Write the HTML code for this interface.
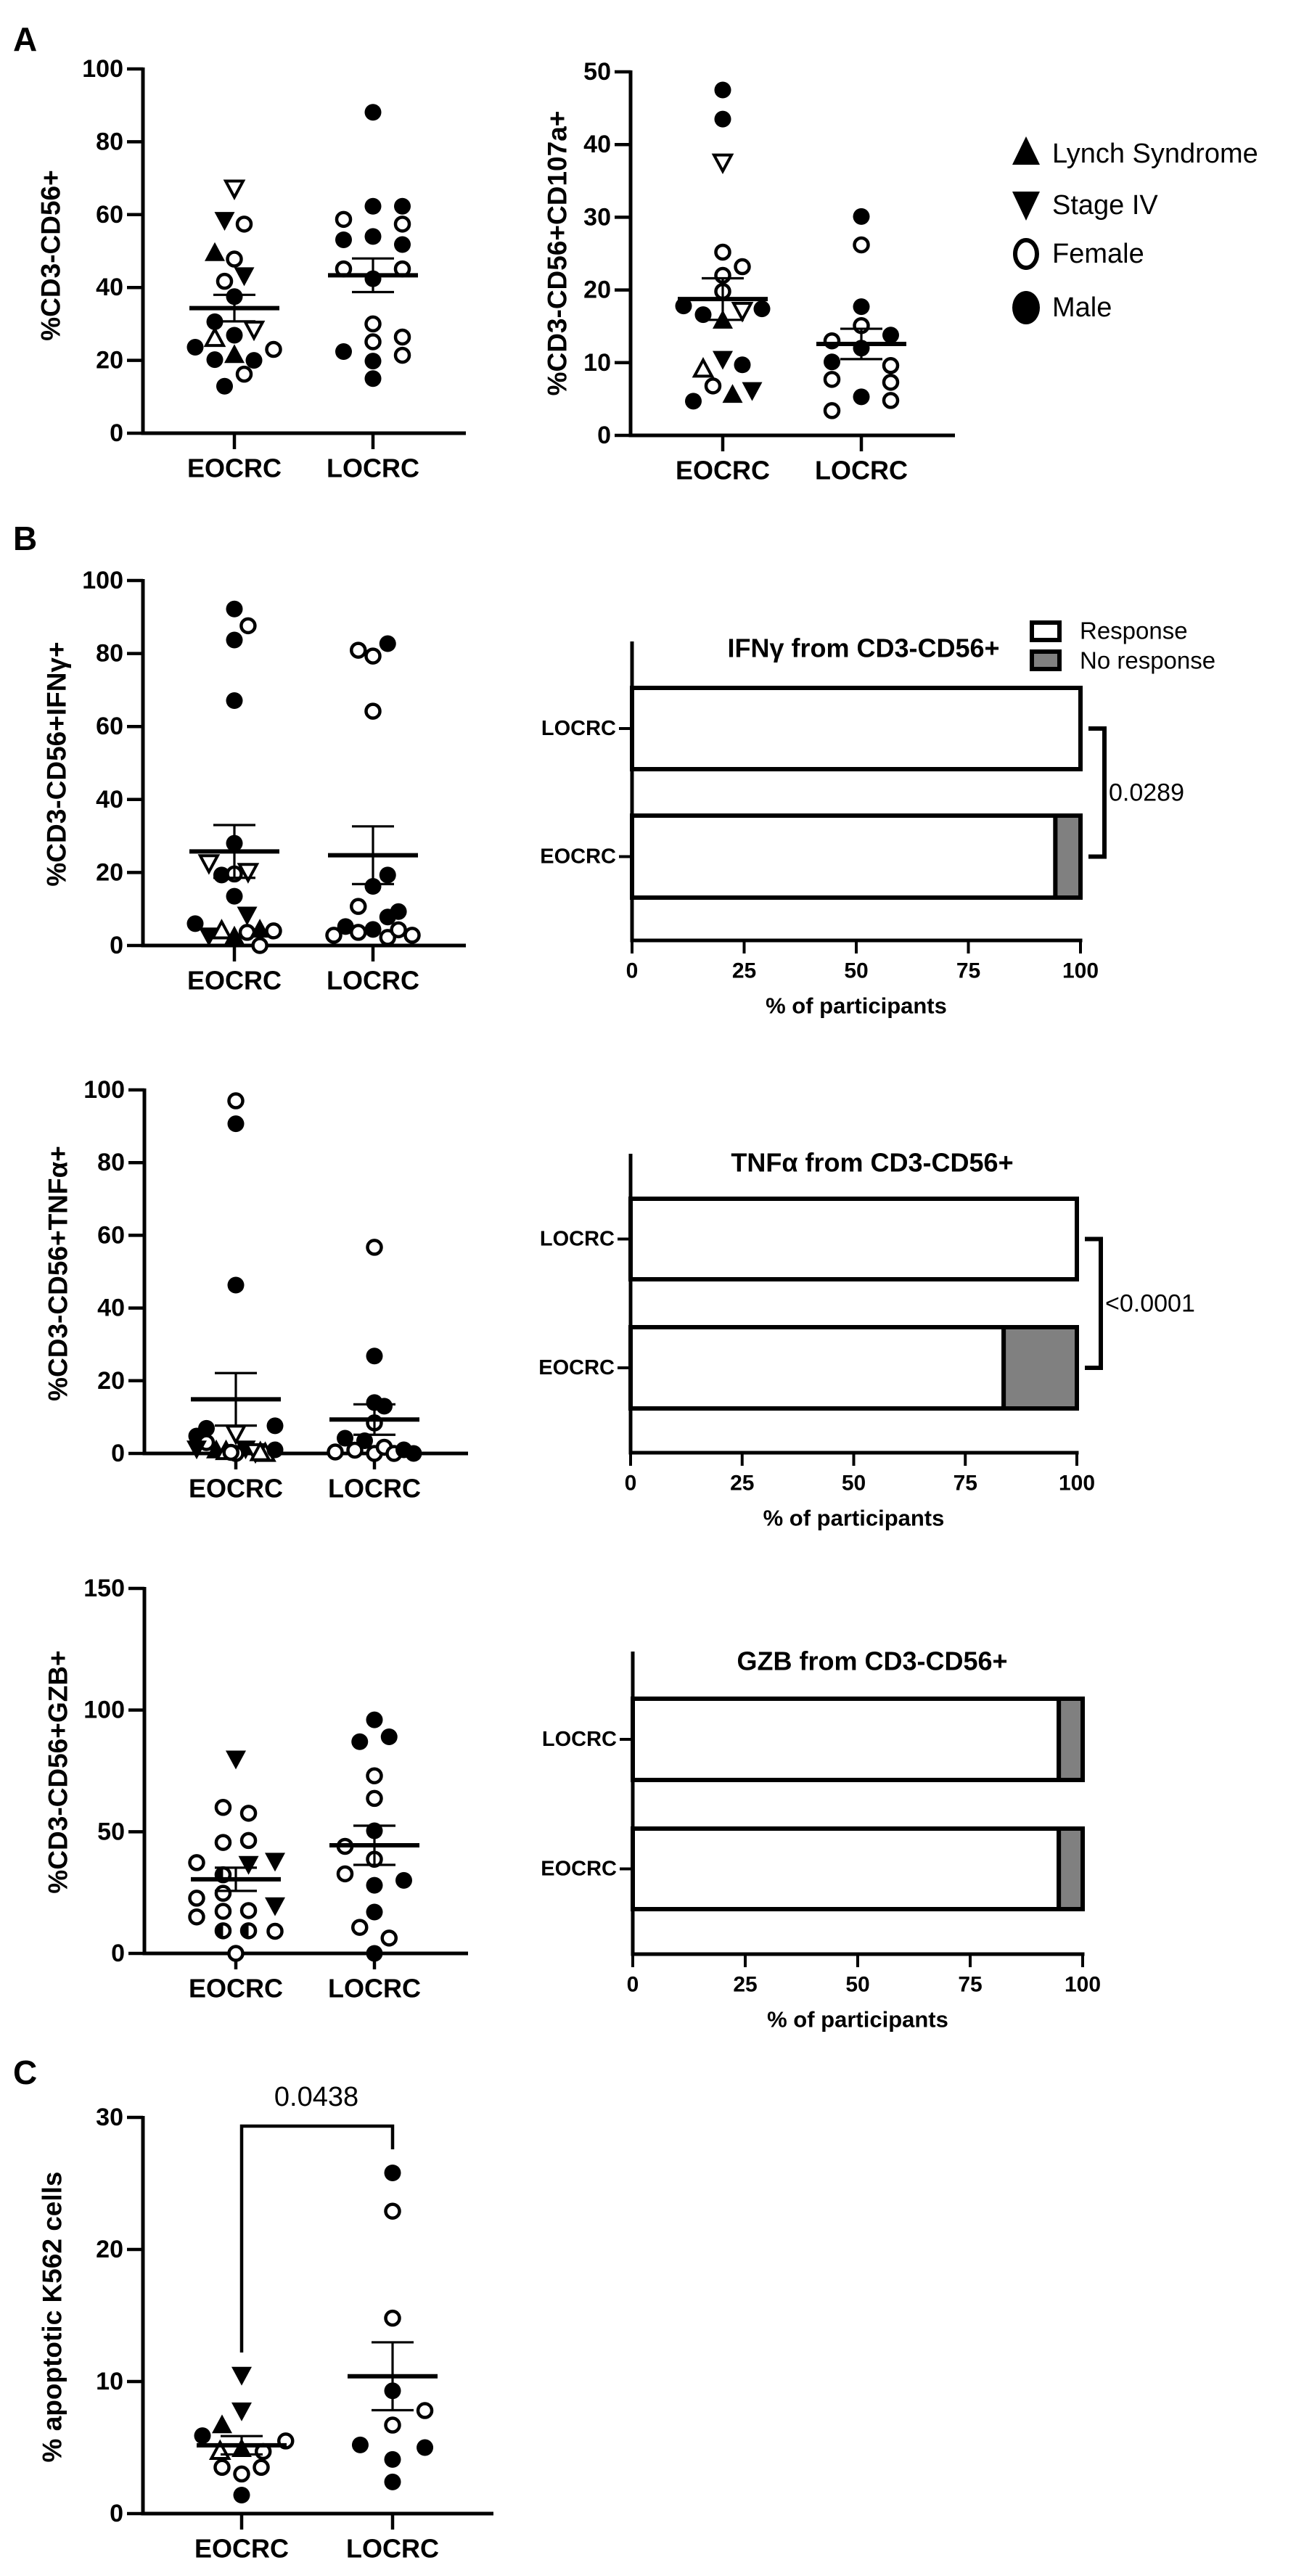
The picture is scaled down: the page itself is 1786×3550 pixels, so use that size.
<!DOCTYPE html>
<html><head><meta charset="utf-8"><style>
html,body{margin:0;padding:0;background:#fff}
svg{display:block}
text{font-family:"Liberation Sans",Arial,sans-serif;fill:#000}
</style></head><body>
<svg id="fig" xmlns="http://www.w3.org/2000/svg" width="1786" height="3550" viewBox="0 0 1786 3550">
<rect width="1786" height="3550" fill="#fff"/>
<text x="18" y="70" font-size="46" font-weight="bold">A</text>
<text x="18" y="758" font-size="46" font-weight="bold">B</text>
<text x="18" y="2872" font-size="46" font-weight="bold">C</text>
</svg>
<script>
// ---- categories ----
const groups = ["EOCRC", "LOCRC"];
// ---- A1: %CD3-CD56+ ----
const a1EoVals = [67.3,58.5,57.4,49.5,47.8,41.7,43.3,37.5,30.6,28.6,26,26.9,23.6,23,21.5,20.2,20,16.2,12.9];
const a1EoShapes = ["od","fd","oc","ft","oc","oc","fd","fc","fc","od","ot","fc","fc","oc","ft","fc","fc","oc","fc"];
const a1EoSlots = [0,-1,1,-2,0,-1,1,0,-2,2,-2,0,-4,4,0,-2,2,1,-1];
const a1LoVals = [88.1,62.3,62.3,58.7,57.4,53.1,54,51.8,45.1,45.1,42.4,30,26.4,25.1,22.4,21.4,19.8,15];
const a1LoShapes = ["fc","fc","fc","oc","oc","fc","fc","fc","oc","oc","fc","oc","oc","oc","fc","oc","fc","fc"];
const a1LoSlots = [0,0,3,-3,3,-3,0,3,-3,3,0,0,3,0,-3,3,0,0];
const a1Ticks = [0,20,40,60,80,100];
// ---- A2: %CD3-CD56+CD107a+ ----
const a2EoVals = [47.5,43.5,37.6,25.2,23.2,22,19.8,17.8,16.6,15.8,17.2,17.4,9.1,10.5,9.7,6.8,5.6,6.2,4.7];
const a2EoShapes = ["fc","fc","od","oc","oc","oc","oc","fc","fc","ft","od","fc","ot","fd","fc","oc","ft","fd","fc"];
const a2EoSlots = [0,0,0,0,2,0,0,-4,-2,0,2,4,-2,0,2,-1,1,3,-3];
const a2LoVals = [30.1,26.2,17.7,15.1,13,13.8,12,10.1,9.6,7.7,7.3,5.3,4.8,3.4];
const a2LoShapes = ["fc","oc","fc","oc","oc","fc","fc","fc","oc","oc","oc","fc","oc","oc"];
const a2LoSlots = [0,0,0,0,-3,3,0,-3,3,-3,3,0,3,-3];
const a2Ticks = [0,10,20,30,40,50];
// ---- B1: IFNg ----
const ifnEoVals = [92.2,87.6,83.7,67.1,28,22.7,19.3,19.6,20.3,13.5,8.4,6,2.7,4,2.5,3.6,4.4,4,0];
const ifnEoShapes = ["fc","oc","fc","fc","fc","od","fc","oc","od","fc","fd","fc","fd","ot","ft","oc","ft","oc","oc"];
const ifnEoSlots = [0,1.4,0,0,0,-2.6,-1.3,0,1.4,0,1.3,-4,-2.6,-1.3,0,1.3,2.6,4,2.6];
const ifnLoVals = [80.9,79.3,82.7,64.2,19.3,16.2,10.7,7.8,9.3,5.2,2.8,3.6,4.4,2.2,4.3,2.8];
const ifnLoShapes = ["oc","oc","fc","oc","fc","fc","oc","fc","fc","fc","oc","oc","fc","oc","oc","oc"];
const ifnLoSlots = [-1.5,0,1.5,0,1.5,0,-1.5,1.5,2.6,-2.8,-4,-1.5,0,1.5,2.6,4];
// ---- B2: TNFa ----
const tnfEoVals = [97,90.7,46.3,5.6,6.9,4.8,7.6,3,1.3,0.9,0.5,0,1.3,0.5,0,1,0.3,0.2];
const tnfEoShapes = ["oc","fc","fc","od","fc","fc","fc","oc","fd","ft","ot","oc","fd","od","ot","fc","oc","ot"];
const tnfEoSlots = [0,0,0,0,-3,-4,4,-3,-4,-2,-1,0,1,2,3,4,-0.5,2.5];
const tnfLoVals = [56.7,26.8,14,13,8.4,4.2,3.5,0.4,0.9,0,1.7,0,1,0];
const tnfLoShapes = ["oc","fc","fc","fc","oc","fc","fc","oc","oc","oc","oc","oc","fc","fc"];
const tnfLoSlots = [0,0,0,1,0,-3,-1,-4,-2,0,1,2,3,4];
const pctTicks = [0,20,40,60,80,100];
// ---- B3: GZB ----
const gzbEoVals = [80,60,57.6,45.6,46.4,37.3,36.7,38,32.3,24.7,22.7,15,17.3,17.6,19.7,9.3,9.3,9.1,0];
const gzbEoShapes = ["fd","oc","oc","oc","oc","oc","fd","fd","hc","oc","oc","oc","oc","oc","fd","hc","hc","oc","oc"];
const gzbEoSlots = [0,-1.3,1.3,-1.3,1.3,-4,1.3,4,-1.3,-1.3,-4,-4,-1.3,1.3,4,-1.3,1.3,4,0];
const gzbLoVals = [96,87,89,73,63.7,50.4,44,38.7,32.7,28,30,17,10.7,6.3,0];
const gzbLoShapes = ["fc","fc","fc","oc","oc","fc","oc","oc","oc","fc","fc","fc","oc","oc","fc"];
const gzbLoSlots = [0,-1.5,1.5,0,0,0,-3,0,-3,0,3,0,-1.5,1.5,0];
const gzbTicks = [0,50,100,150];
// ---- C: apoptotic K562 ----
const cEoVals = [10.5,7.8,6.7,5.9,5.5,4.7,4.9,4.7,3.5,3.0,3.5,1.4];
const cEoShapes = ["fd","fd","ft","fc","oc","ot","ft","oc","oc","oc","oc","fc"];
const cEoSlots = [0,0,-2,-4,4.5,-2.2,0,2.2,-2,0,2,0];
const cLoVals = [25.8,22.9,14.8,9.3,7.8,6.7,5.2,5.0,4.1,2.4];
const cLoShapes = ["fc","oc","oc","fc","oc","oc","fc","fc","fc","fc"];
const cLoSlots = [0,0,0,0,3.3,0,-3.3,3.3,0,0];
const cTicks = [0,10,20,30];
// ---- stacked bars (% of participants), order [EOCRC, LOCRC] ----
const ifnResponse = [94.4, 100];
const tnfResponse = [83.6, 100];
const gzbResponse = [94.7, 94.7];
const barTicks = [0,25,50,75,100];

const NS = "http://www.w3.org/2000/svg";
const svg = document.getElementById("fig");
function mk(tag, attrs, parent, txt){
  const e = document.createElementNS(NS, tag);
  for (const k in attrs) e.setAttribute(k, attrs[k]);
  if (txt !== undefined) e.textContent = txt;
  (parent || svg).appendChild(e);
  return e;
}
function line(g,x1,y1,x2,y2,w){ return mk("line",{x1,y1,x2,y2,stroke:"#000","stroke-width":w},g); }

function marker(g, shape, cx, cy){
  let e;
  const r = 11.5, t = 14;
  if (shape === "fc") e = mk("circle",{cx,cy,r,fill:"#000"},g);
  else if (shape === "oc") e = mk("circle",{cx,cy,r:9.5,fill:"#fff",stroke:"#000","stroke-width":4.5},g);
  else if (shape === "hc") {
    e = mk("g",{},g);
    mk("circle",{cx,cy,r:9.5,fill:"#fff",stroke:"#000","stroke-width":4.5},e);
    mk("path",{d:`M${cx},${cy-9.5} A9.5,9.5 0 0 0 ${cx},${cy+9.5} Z`,fill:"#000"},e);
  }
  else {
    const up = shape[1] === "t";
    const filled = shape[0] === "f";
    const s = filled ? t : t-2;
    const pts = up ? `${cx-s},${cy+s*0.8} ${cx+s},${cy+s*0.8} ${cx},${cy-s*1.05}`
                   : `${cx-s},${cy-s*0.8} ${cx+s},${cy-s*0.8} ${cx},${cy+s*1.05}`;
    e = mk("polygon",{points:pts,fill:filled?"#000":"#fff",stroke:"#000","stroke-width":filled?0:4,"stroke-linejoin":"miter"},g);
  }
  
  
  return e;
}

function meanSem(v){
  const n=v.length; const m=v.reduce((a,b)=>a+b,0)/n;
  const sd=Math.sqrt(v.reduce((a,b)=>a+(b-m)*(b-m),0)/(n-1));
  return [m, sd/Math.sqrt(n)];
}

function scatter(cfg){
  const g = mk("g",{});
  
  
  const yMax = cfg.ticks[cfg.ticks.length-1];
  const Y = v => cfg.y0 - (v/yMax)*(cfg.y0-cfg.yTop);
  const ya = line(g,cfg.x0,cfg.yTop-2,cfg.x0,cfg.y0+2.5,5);
  
  
  const xa = line(g,cfg.x0-2.5,cfg.y0,cfg.xEnd,cfg.y0,5);
  
  
  cfg.ticks.forEach(t=>{
    const y=Y(t);
    line(g,cfg.x0-22,y,cfg.x0,y,4.5);
    const tl = mk("text",{x:cfg.x0-27,y:y,"font-size":34,"font-weight":"bold","text-anchor":"end","dominant-baseline":"central"},g,String(t));
    
    
  });
  groups.forEach((gn,i)=>{
    const cx=cfg.cats[i];
    line(g,cx,cfg.y0,cx,cfg.y0+22,4.5);
    const xl = mk("text",{x:cx,y:cfg.y0+48,"font-size":36,"font-weight":"bold","text-anchor":"middle","dominant-baseline":"central"},g,gn);
    
    
  });
  const yt = mk("text",{x:0,y:0,"font-size":37,"font-weight":"bold","text-anchor":"middle","dominant-baseline":"central",transform:`translate(${cfg.titleX},${cfg.titleY}) rotate(-90)`},g,cfg.title);
  
  
  const sets=[[cfg.eoV,cfg.eoS,cfg.eoJ],[cfg.loV,cfg.loS,cfg.loJ]];
  sets.forEach((s,i)=>{
    const cx=cfg.cats[i];
    s[0].forEach((v,k)=>marker(g,s[1][k],cx+s[2][k]*13.5,Y(v)));
    const [m,se]=meanSem(s[0]);
    const ml = line(g,cx-62,Y(m),cx+62,Y(m),6);
    
    
    const eb = mk("path",{d:`M${cx},${Y(m+se)}V${Y(m-se)}M${cx-29},${Y(m+se)}H${cx+29}M${cx-29},${Y(m-se)}H${cx+29}`,stroke:"#000","stroke-width":3.2,fill:"none"},g);
    
    
  });
  return {g,Y};
}

scatter({name:"chart-cd56",x0:197,xEnd:642,yTop:95,y0:597,cats:[323,514],ticks:a1Ticks,title:"%CD3-CD56+",titleX:70,titleY:352,
  eoV:a1EoVals,eoS:a1EoShapes,eoJ:a1EoSlots,loV:a1LoVals,loS:a1LoShapes,loJ:a1LoSlots});
scatter({name:"chart-cd107a",x0:869,xEnd:1316,yTop:99,y0:600,cats:[996,1187],ticks:a2Ticks,title:"%CD3-CD56+CD107a+",titleX:768,titleY:349,
  eoV:a2EoVals,eoS:a2EoShapes,eoJ:a2EoSlots,loV:a2LoVals,loS:a2LoShapes,loJ:a2LoSlots});
scatter({name:"chart-ifng-scatter",x0:197,xEnd:642,yTop:800,y0:1303,cats:[323,514],ticks:pctTicks,title:"%CD3-CD56+IFNγ+",titleX:78,titleY:1053,
  eoV:ifnEoVals,eoS:ifnEoShapes,eoJ:ifnEoSlots,loV:ifnLoVals,loS:ifnLoShapes,loJ:ifnLoSlots});
scatter({name:"chart-tnfa-scatter",x0:199,xEnd:645,yTop:1502,y0:2003,cats:[325,516],ticks:pctTicks,title:"%CD3-CD56+TNFα+",titleX:80,titleY:1755,
  eoV:tnfEoVals,eoS:tnfEoShapes,eoJ:tnfEoSlots,loV:tnfLoVals,loS:tnfLoShapes,loJ:tnfLoSlots});
scatter({name:"chart-gzb-scatter",x0:199,xEnd:645,yTop:2189,y0:2692,cats:[325,516],ticks:gzbTicks,title:"%CD3-CD56+GZB+",titleX:80,titleY:2442,
  eoV:gzbEoVals,eoS:gzbEoShapes,eoJ:gzbEoSlots,loV:gzbLoVals,loS:gzbLoShapes,loJ:gzbLoSlots});
const cChart = scatter({name:"chart-apoptosis",x0:197,xEnd:680,yTop:2918,y0:3464,cats:[333,541],ticks:cTicks,title:"% apoptotic K562 cells",titleX:72,titleY:3193,
  eoV:cEoVals,eoS:cEoShapes,eoJ:cEoSlots,loV:cLoVals,loS:cLoShapes,loJ:cLoSlots});
const cb = mk("path",{d:"M333,3242V2930H541V2962",stroke:"#000","stroke-width":4.5,fill:"none"},cChart.g);


const cp = mk("text",{x:436,y:2890,"font-size":38,"text-anchor":"middle","dominant-baseline":"central"},cChart.g,"0.0438");



const legend = mk("g",{});


[["ft","Lynch Syndrome",212],["fd","Stage IV",283],["oc","Female",350],["fc","Male",424]].forEach(it=>{
  const s = it[0];
  if (s==="ft") mk("polygon",{points:`1395,227 1433,227 1414,188`,fill:"#000"},legend);
  else if (s==="fd") mk("polygon",{points:`1395,264 1433,264 1414,304`,fill:"#000"},legend);
  else if (s==="oc") mk("ellipse",{cx:1414,cy:it[2],rx:15,ry:19,fill:"#fff",stroke:"#000","stroke-width":6},legend);
  else mk("ellipse",{cx:1414,cy:it[2],rx:19,ry:23,fill:"#000"},legend);
  const lt = mk("text",{x:1450,y:it[2],"font-size":38,"dominant-baseline":"central"},legend,it[1]);
  
  
});

function barChart(cfg){
  const g = mk("g",{});
  
  
  const X = v => cfg.x0 + v/100*(cfg.x100-cfg.x0);
  const ya = line(g,cfg.x0,cfg.top,cfg.x0,cfg.axisY+2.5,5);
  
  
  const xa = line(g,cfg.x0-2.5,cfg.axisY,cfg.x100+2.5,cfg.axisY,5);
  
  
  barTicks.forEach(t=>{
    line(g,X(t),cfg.axisY,X(t),cfg.axisY+18,4);
    const tl = mk("text",{x:X(t),y:cfg.axisY+42,"font-size":30,"font-weight":"bold","text-anchor":"middle","dominant-baseline":"central"},g,String(t));
    
    
  });
  const xt = mk("text",{x:(cfg.x0+cfg.x100)/2,y:cfg.axisY+90,"font-size":31,"font-weight":"bold","text-anchor":"middle","dominant-baseline":"central"},g,"% of participants");
  
  
  const tt = mk("text",{x:cfg.titleCx,y:cfg.titleY,"font-size":36,"font-weight":"bold","text-anchor":"middle","dominant-baseline":"central"},g,cfg.title);
  
  
  groups.forEach((gn,i)=>{
    const b = cfg.bars[i];
    const cy = (b[0]+b[1])/2;
    line(g,cfg.x0-18,cy,cfg.x0,cy,4);
    const yl = mk("text",{x:cfg.x0-22,y:cy,"font-size":29,"font-weight":"bold","text-anchor":"end","dominant-baseline":"central"},g,gn);
    
    
    const resp = cfg.resp[i];
    const r1 = mk("rect",{x:cfg.x0,y:b[0],width:X(resp)-cfg.x0,height:b[1]-b[0],fill:"#fff",stroke:"#000","stroke-width":6},g);
    
    
    if (resp < 100) {
      const r2 = mk("rect",{x:X(resp),y:b[0],width:X(100)-X(resp),height:b[1]-b[0],fill:"#808080",stroke:"#000","stroke-width":6},g);
      
      
    }
  });
  if (cfg.p) {
    const e = cfg.bars[0], l = cfg.bars[1];
    const y1=(l[0]+l[1])/2, y2=(e[0]+e[1])/2, bx=cfg.x100+33;
    const br = mk("path",{d:`M${bx-22},${y1}H${bx}V${y2}H${bx-22}`,stroke:"#000","stroke-width":6,fill:"none"},g);
    
    
    const pt = mk("text",{x:bx+6,y:(y1+y2)/2,"font-size":34,"dominant-baseline":"central"},g,cfg.p);
    
    
  }
  return g;
}
const ifnBar = barChart({name:"chart-ifng-bars",x0:871,x100:1489,top:884,axisY:1296,bars:[[1124,1237],[948,1060]],resp:ifnResponse,
  title:"IFNγ from CD3-CD56+",titleCx:1190,titleY:893,p:"0.0289"});
barChart({name:"chart-tnfa-bars",x0:869,x100:1484,top:1590,axisY:2002,bars:[[1829,1941],[1652,1763]],resp:tnfResponse,
  title:"TNFα from CD3-CD56+",titleCx:1202,titleY:1602,p:"<0.0001"});
barChart({name:"chart-gzb-bars",x0:872,x100:1492,top:2276,axisY:2693,bars:[[2520,2631],[2341,2453]],resp:gzbResponse,
  title:"GZB from CD3-CD56+",titleCx:1202,titleY:2289,p:null});
const bl = mk("g",{},ifnBar);


mk("rect",{x:1422,y:858,width:38,height:24,fill:"#fff",stroke:"#000","stroke-width":6},bl);
mk("rect",{x:1422,y:898,width:38,height:24,fill:"#808080",stroke:"#000","stroke-width":6},bl);
const l1 = mk("text",{x:1488,y:869,"font-size":33,"dominant-baseline":"central"},bl,"Response");


const l2 = mk("text",{x:1488,y:910,"font-size":33,"dominant-baseline":"central"},bl,"No response");


</script>
</body></html>
